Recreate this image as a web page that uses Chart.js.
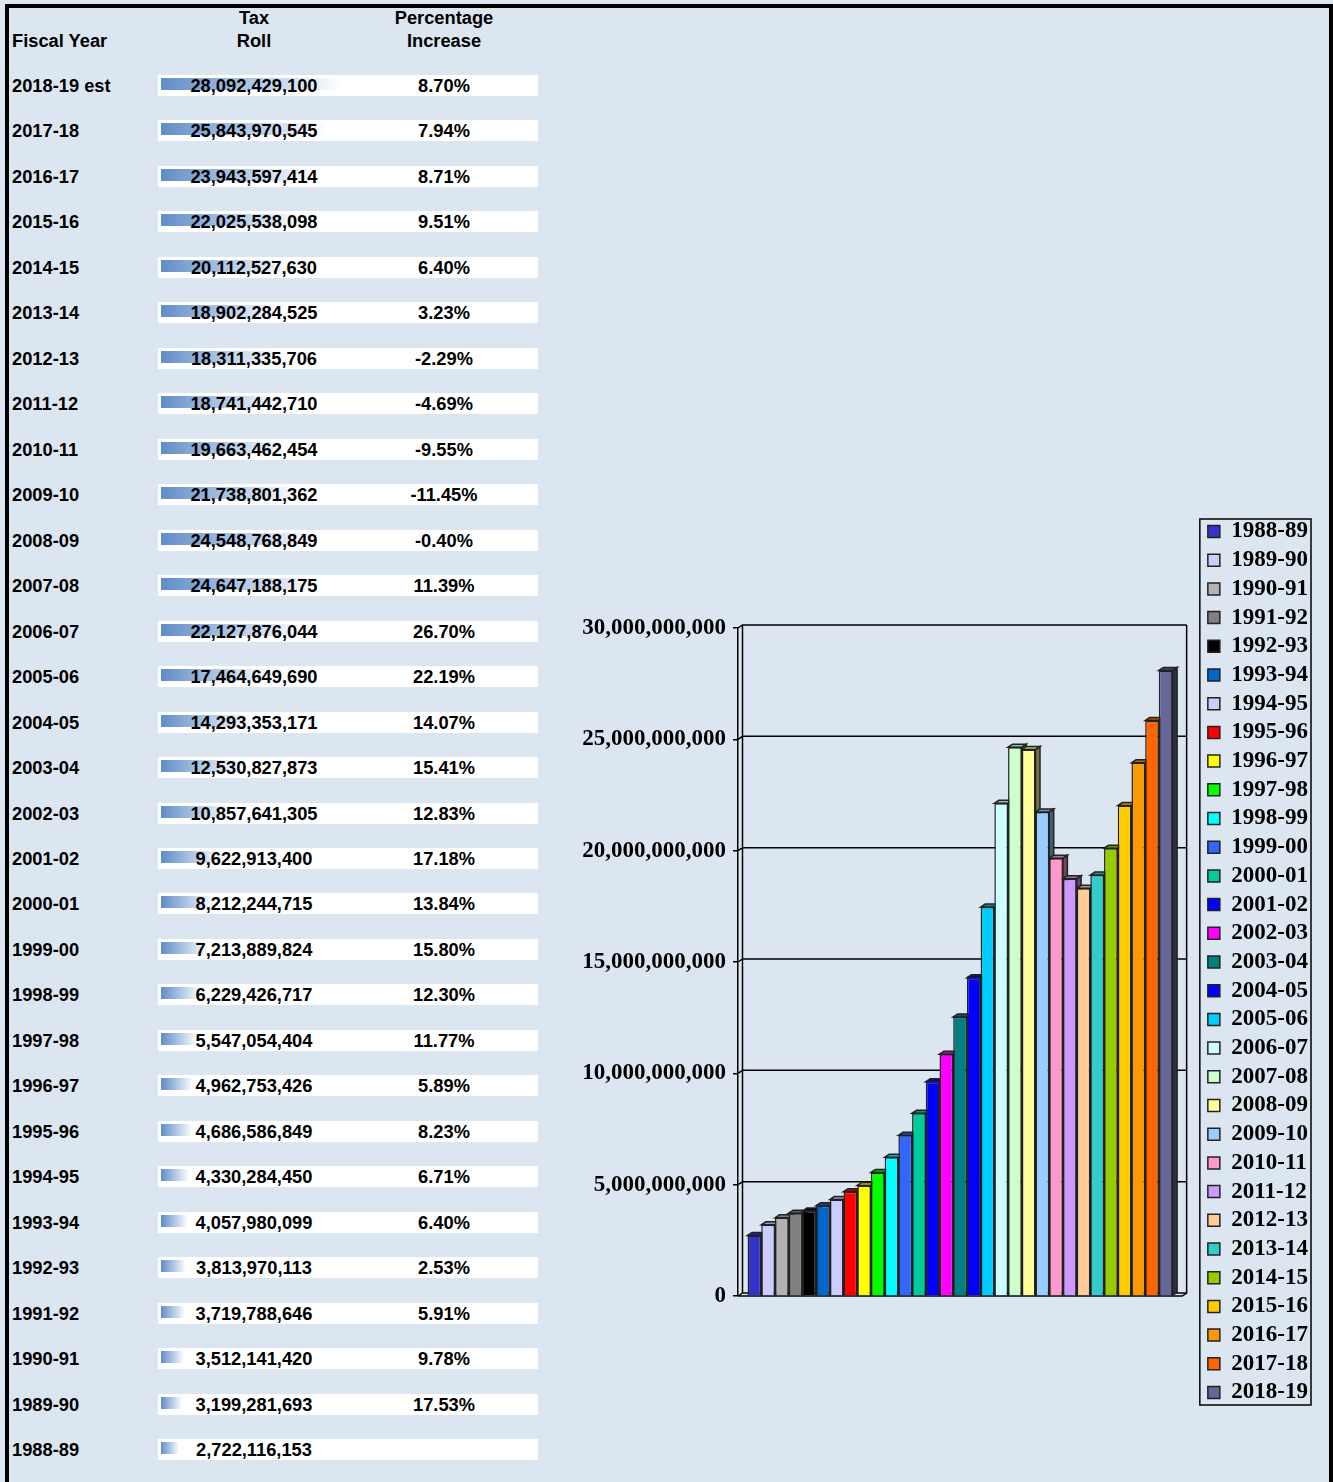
<!DOCTYPE html>
<html>
<head>
<meta charset="utf-8">
<script src="https://cdn.jsdelivr.net/npm/chart.js@4"></script>
<style>
  body { margin: 0; background: #dce6f1; font-family: "Liberation Sans", Arial, sans-serif; }
  #frame { position: absolute; left: 5px; top: 4px; width: 1328px; height: 1500px; box-sizing: border-box;
           border: 4px solid #000; border-bottom: none; background: #dce6f1; }
  .cell { position: absolute; font-weight: bold; font-size: 18.3px; color: #000; line-height: 22px; white-space: nowrap; }
  .band { position: absolute; left: 158px; width: 380px; height: 21px; background: #fff; }
  .dbar { position: absolute; left: 161px; height: 12px; background: linear-gradient(to right, #5f8dc8, #ffffff); }
  #roll { position: absolute; left: 565px; top: 502px; }
</style>
</head>
<body>
<div id="frame"></div>
<div id="table"></div>
<canvas id="roll" width="753" height="920"></canvas>
<script>
// oldest first, same order as the chart series
const years = ["1988-89", "1989-90", "1990-91", "1991-92", "1992-93", "1993-94", "1994-95", "1995-96",
  "1996-97", "1997-98", "1998-99", "1999-00", "2000-01", "2001-02", "2002-03", "2003-04", "2004-05",
  "2005-06", "2006-07", "2007-08", "2008-09", "2009-10", "2010-11", "2011-12", "2012-13", "2013-14",
  "2014-15", "2015-16", "2016-17", "2017-18", "2018-19"];
const taxRoll = [2722116153, 3199281693, 3512141420, 3719788646, 3813970113, 4057980099, 4330284450,
  4686586849, 4962753426, 5547054404, 6229426717, 7213889824, 8212244715, 9622913400, 10857641305,
  12530827873, 14293353171, 17464649690, 22127876044, 24647188175, 24548768849, 21738801362,
  19663462454, 18741442710, 18311335706, 18902284525, 20112527630, 22025538098, 23943597414,
  25843970545, 28092429100];
const pctIncrease = ["", "17.53%", "9.78%", "5.91%", "2.53%", "6.40%", "6.71%", "8.23%", "5.89%",
  "11.77%", "12.30%", "15.80%", "13.84%", "17.18%", "12.83%", "15.41%", "14.07%", "22.19%", "26.70%",
  "11.39%", "-0.40%", "-11.45%", "-9.55%", "-4.69%", "-2.29%", "3.23%", "6.40%", "9.51%", "8.71%",
  "7.94%", "8.70%"];
const barColors = ["#3333CC", "#CCCCFF", "#B2B2B2", "#808080", "#000000", "#0066CC", "#CCCCFF",
  "#FF0000", "#FFFF00", "#00FF00", "#00FFFF", "#3366FF", "#00CC99", "#0000FF", "#FF00FF", "#008080",
  "#0000FF", "#00CCFF", "#CCFFFF", "#CCFFCC", "#FFFF99", "#99CCFF", "#FF99CC", "#CC99FF", "#FFCC99",
  "#33CCCC", "#99CC00", "#FFCC00", "#FF9900", "#FF6600", "#666699"];
const yTicks = { min: 0, max: 30000000000, step: 5000000000 };

// ---- table on the left (newest first) ----
function cell(text, x, y, align) {
  const d = document.createElement("div");
  d.className = "cell";
  d.textContent = text;
  d.style.top = (y - 11) + "px";
  if (align === "center") { d.style.left = (x - 100) + "px"; d.style.width = "200px"; d.style.textAlign = "center"; }
  else d.style.left = x + "px";
  table.appendChild(d);
}
const table = document.getElementById("table");
cell("Tax", 254, 18, "center");
cell("Roll", 254, 41, "center");
cell("Percentage", 444, 18, "center");
cell("Increase", 444, 41, "center");
cell("Fiscal Year", 12, 41);

const minV = Math.min(...taxRoll), maxV = Math.max(...taxRoll);
for (let i = years.length - 1, row = 0; i >= 0; i--, row++) {
  const cy = 86 + row * 45.47;
  const band = document.createElement("div");
  band.className = "band";
  band.style.top = (cy - 11) + "px";
  table.appendChild(band);
  const bar = document.createElement("div");
  bar.className = "dbar";
  bar.style.top = (cy - 8) + "px";
  bar.style.width = (18 + (taxRoll[i] - minV) / (maxV - minV) * 162) + "px";
  table.appendChild(bar);
  cell(years[i] + (i === years.length - 1 ? " est" : ""), 12, cy);
  cell(taxRoll[i].toLocaleString("en-US"), 254, cy, "center");
  cell(pctIncrease[i], 444, cy, "center");
}

// ---- 3d look for the chart ----
const DX = 4.5, DY = -3;
function shade(hex, f) {
  const n = parseInt(hex.slice(1), 16);
  const r = Math.round((n >> 16 & 255) * f), g = Math.round((n >> 8 & 255) * f), b = Math.round((n & 255) * f);
  return "rgb(" + r + "," + g + "," + b + ")";
}
function poly(ctx, pts, fill) {
  ctx.beginPath();
  ctx.moveTo(pts[0][0], pts[0][1]);
  for (let k = 1; k < pts.length; k++) ctx.lineTo(pts[k][0], pts[k][1]);
  ctx.closePath();
  if (fill) { ctx.fillStyle = fill; ctx.fill(); }
  ctx.stroke();
}
const frame3d = {
  id: "frame3d",
  beforeDatasetsDraw(chart) {
    const { ctx, chartArea: a, scales: { y } } = chart;
    ctx.save();
    ctx.strokeStyle = "#000";
    ctx.lineWidth = 1.5;
    ctx.beginPath();
    y.ticks.forEach((t) => {
      const py = y.getPixelForValue(t.value);
      ctx.moveTo(a.left, py);
      ctx.lineTo(a.left + DX, py + DY);
      ctx.lineTo(a.right + DX, py + DY);
    });
    ctx.moveTo(a.left + DX, a.top + DY);
    ctx.lineTo(a.left + DX, a.bottom + DY);
    ctx.moveTo(a.right + DX, a.top + DY);
    ctx.lineTo(a.right + DX, a.bottom + DY);
    ctx.lineTo(a.right, a.bottom);
    ctx.lineTo(a.left, a.bottom);
    ctx.stroke();

    ctx.strokeStyle = "#222";
    chart.data.datasets.forEach((ds, i) => {
      const el = chart.getDatasetMeta(i).data[0];
      const p = el.getProps(["x", "y", "base", "width"], true);
      const l = p.x - p.width / 2, r = p.x + p.width / 2;
      poly(ctx, [[r, p.y], [r + DX, p.y + DY], [r + DX, p.base + DY], [r, p.base]], shade(barColors[i], 0.45));
      poly(ctx, [[l, p.y], [l + DX, p.y + DY], [r + DX, p.y + DY], [r, p.y]], shade(barColors[i], 0.72));
    });
    ctx.restore();
  },
  afterDraw(chart) {
    const lg = chart.legend;
    if (!lg || !lg.legendHitBoxes.length) return;
    const hb = lg.legendHitBoxes;
    const top = hb[0].top - 1, bottom = hb[hb.length - 1].top + hb[hb.length - 1].height + 1;
    const left = hb[0].left - 8;
    const ctx = chart.ctx;
    ctx.save();
    ctx.strokeStyle = "#000";
    ctx.lineWidth = 1.5;
    ctx.strokeRect(left, top, lg.right - 7 - left, bottom - top);
    ctx.restore();
  }
};

const serif = "'Liberation Serif', 'Times New Roman', serif";
const hidden = { grid: { display: false }, ticks: { display: false }, border: { display: false } };

new Chart(document.getElementById("roll"), {
  type: "bar",
  data: {
    labels: [""],
    datasets: years.map((yr, i) => ({
      label: yr,
      data: [taxRoll[i]],
      backgroundColor: barColors[i],
      borderColor: "#222",
      borderWidth: 1.5,
      categoryPercentage: 0.957,
      barPercentage: 1,
    })),
  },
  options: {
    responsive: false,
    animation: false,
    devicePixelRatio: 1,
    layout: { padding: 0 },
    plugins: {
      tooltip: { enabled: false },
      legend: {
        position: "right",
        labels: {
          boxWidth: 12,
          boxHeight: 12,
          padding: 5.7,
          color: "#000",
          font: { family: serif, size: 23, weight: "bold" },
        },
      },
    },
    scales: {
      x: { ...hidden, afterFit(s) { s.height = 126; } },
      xTop: { type: "category", position: "top", ...hidden, afterFit(s) { s.height = 126; } },
      y: {
        min: yTicks.min,
        max: yTicks.max,
        ticks: {
          stepSize: yTicks.step,
          padding: 7,
          color: "#000",
          font: { family: serif, size: 23, weight: "bold" },
          callback: (v) => v.toLocaleString("en-US"),
        },
        grid: { drawOnChartArea: false, tickLength: 5, color: "#000", lineWidth: 1.5 },
        border: { color: "#000", width: 1.5 },
        afterFit(s) { s.width = 173; },
      },
      yRight: { type: "linear", position: "right", ...hidden, afterFit(s) { s.width = 20; } },
    },
  },
  plugins: [frame3d],
});
</script>
</body>
</html>
